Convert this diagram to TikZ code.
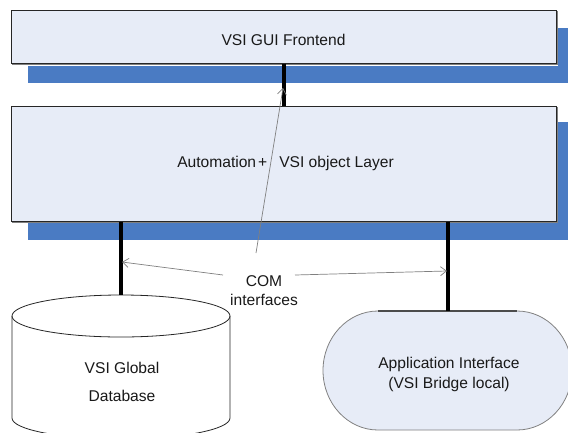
\documentclass[tikz,border=0pt]{standalone}
\usepackage{fontspec}
\setmainfont{Liberation Sans}
\usetikzlibrary{arrows.meta}
\definecolor{shadowblue}{HTML}{4A7BC3}
\definecolor{boxfill}{HTML}{E7ECF7}
\definecolor{thingray}{HTML}{808080}
\begin{document}
\begin{tikzpicture}[x=1pt,y=-1pt,
  layerbox/.style={draw=black!85, line width=1pt, fill=boxfill, minimum width=545pt, inner sep=0pt, font=\fontsize{15.6}{19}\selectfont, text=black!90},
  shadowbar/.style={fill=shadowblue},
  bus/.style={line width=4pt, black},
  comarrow/.style={draw=thingray, line width=0.7pt, -{Straight Barb[length=6pt,width=9pt]}},
  lbl/.style={font=\fontsize{15.6}{19}\selectfont, align=center, inner sep=0pt, text=black!90}]
\useasboundingbox (0,0) rectangle (568,432);
\clip (0,0) rectangle (568,432);
% blue shadow bars
\fill[shadowbar] (28,28) rectangle (572,83);
\fill[shadowbar] (28,122) rectangle (572,240);
% white halos and grey shadow lines
\fill[white] (10,9) rectangle (558,66);
\fill[white] (10,105) rectangle (558,223);
\draw[gray, line width=0.8pt] (12,64.8) -- (557.6,64.8) -- (557.6,11);
\draw[gray, line width=0.8pt] (12,222.6) -- (557.6,222.6) -- (557.6,107);
% layer boxes
\node[layerbox, minimum height=53pt, text height=17pt, text depth=0pt] (gui) at (283.5,36.5) {VSI GUI Frontend};
\node[layerbox, minimum height=115pt] (mid) at (283.5,163.5) {\hspace{4pt}Automation\kern2pt+\hspace{12pt}VSI object Layer};
% database cylinder
\path[draw=black!85, line width=0.8pt, fill=white] (12,316) -- (12,418)
  arc[start angle=180, end angle=360, x radius=109pt, y radius=21pt] -- (230,316)
  arc[start angle=0, end angle=180, x radius=109pt, y radius=21pt] -- cycle;
\draw[black!85, line width=0.8pt] (12,316) arc[start angle=180, end angle=360, x radius=109pt, y radius=21pt];
\coordinate (dbtop) at (121,295);
\node[lbl, font=\fontsize{15.6}{28}\selectfont] (db) at (122,382.3) {VSI Global\\Database};
% application interface terminator
\path[draw=thingray, line width=0.8pt, fill=boxfill] (378,311) -- (517,311)
  arc[start angle=90, end angle=-90, x radius=55pt, y radius=59.5pt] -- (378,430)
  arc[start angle=270, end angle=90, x radius=55pt, y radius=59.5pt] -- cycle;
\draw[black!70, line width=1.2pt] (378,311) -- (517,311);
\coordinate (aitop) at (448,311);
\node[lbl, font=\fontsize{15.6}{20}\selectfont] (ai) at (449,374) {Application Interface\\(VSI Bridge local)};
% thick interface lines
\draw[bus] (gui.south) -- (mid.north);
\draw[bus] (mid.south -| dbtop) -- (dbtop);
\draw[bus] (mid.south -| aitop) -- (aitop);
% COM interfaces label and arrows
\node[lbl] (comlbl) at (264,291) {COM\\interfaces};
\coordinate (upstart) at (256,253);
\coordinate (uptip) at (283,88);
\coordinate (lstart) at (223,275);
\coordinate (ltip) at (122,262);
\coordinate (rstart) at (295,275);
\coordinate (rtip) at (447,271);
\draw[comarrow] (upstart) -- (uptip);
\draw[comarrow] (lstart) -- (ltip);
\draw[comarrow] (rstart) -- (rtip);
\end{tikzpicture}
\end{document}
